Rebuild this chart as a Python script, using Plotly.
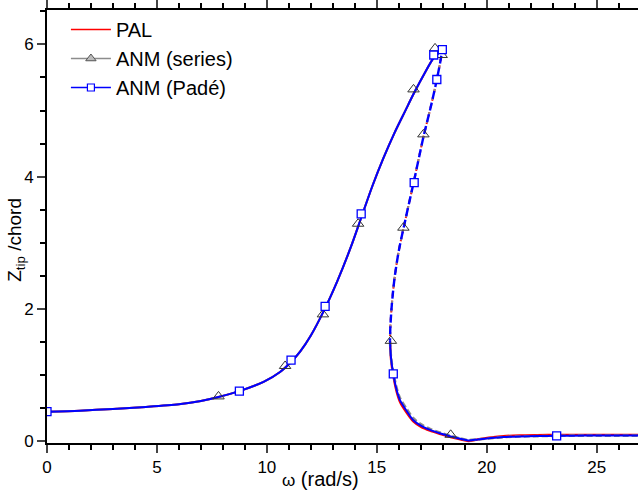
import plotly.graph_objects as go

# ---------------- data ----------------
# stable upper branch (shared by the three methods)
omega_upper = [0, 1.5, 3, 4.5, 6, 7, 7.8, 8.75, 9.85, 10.6, 11.1, 11.52, 12.0, 12.6,
               13.2, 13.8, 14.29, 14.8, 15.3, 15.8, 16.3, 16.67, 17.2, 17.59, 17.85, 17.98]
z_upper = [0.45, 0.465, 0.49, 0.52, 0.56, 0.61, 0.67, 0.76, 0.90, 1.05, 1.2, 1.36, 1.6, 1.98,
           2.42, 2.92, 3.38, 3.86, 4.28, 4.66, 5.0, 5.25, 5.58, 5.8, 5.89, 5.92]

# unstable branch (dashed)
omega_unstable = [17.98, 17.9, 17.75, 17.5, 17.12, 16.7, 16.3, 16.0, 15.8, 15.68, 15.62, 15.6]
z_unstable = [5.92, 5.76, 5.5, 5.12, 4.6, 3.95, 3.35, 2.88, 2.45, 2.05, 1.75, 1.52]

# stable lower branch
omega_lower = [15.6, 15.65, 15.75, 15.9, 16.06, 16.36, 16.66, 17.0, 17.42, 17.9, 18.36,
               18.8, 19.16, 19.6, 20.2, 20.75, 21.5, 22.3, 23.18, 24.5, 26.0, 27.0]
z_lower_pade = [1.52, 1.25, 1.02, 0.78, 0.62, 0.46, 0.32, 0.24, 0.175, 0.12, 0.075,
                0.04, 0.015, 0.03, 0.05, 0.065, 0.075, 0.08, 0.085, 0.088, 0.088, 0.088]
z_lower_series = [1.52, 1.26, 1.04, 0.81, 0.65, 0.49, 0.35, 0.26, 0.19, 0.13, 0.085,
                  0.045, 0.02, 0.03, 0.05, 0.065, 0.075, 0.08, 0.085, 0.088, 0.088, 0.088]
z_lower_pal = [1.52, 1.22, 0.99, 0.75, 0.59, 0.43, 0.30, 0.22, 0.16, 0.11, 0.065,
               0.03, 0.005, 0.03, 0.06, 0.08, 0.092, 0.097, 0.1, 0.1, 0.1, 0.1]

# ANM (series) markers
series_w = [7.8, 10.83, 12.55, 14.15, 16.67, 17.65, 17.95, 17.12, 16.21, 15.64, 18.36]
series_z = [0.68, 1.14, 1.92, 3.29, 5.32, 5.94, 5.84, 4.64, 3.23, 1.52, 0.10]

# ANM (Padé) markers
pade_w = [0, 8.75, 11.1, 12.65, 14.29, 17.59, 17.98, 17.73, 16.7, 15.75, 23.18]
pade_z = [0.45, 0.76, 1.23, 2.04, 3.44, 5.84, 5.92, 5.47, 3.91, 1.02, 0.085]

x_ticks = [0, 5, 10, 15, 20, 25]
y_ticks = [0, 2, 4, 6]

RED = "#ff0000"
GRAY = "#8c8c8c"
BLUE = "#0000ff"

fig = go.Figure()


def add_branch(x, y, color, dash, width=2.0):
    fig.add_trace(go.Scatter(x=x, y=y, mode="lines", showlegend=False,
                             hoverinfo="skip",
                             line=dict(color=color, width=width, dash=dash,
                                       shape="spline", smoothing=0.8)))


# PAL (red)
add_branch(omega_upper, z_upper, RED, "solid")
add_branch(omega_unstable, z_unstable, RED, "4px,4px")
add_branch(omega_lower, z_lower_pal, RED, "solid", 2.2)
# ANM series (gray)
add_branch(omega_upper, z_upper, GRAY, "solid")
add_branch(omega_unstable, z_unstable, GRAY, "3px,5px")
add_branch(omega_lower, z_lower_series, GRAY, "6px,3px", 2.6)
# ANM Pade (blue)
add_branch(omega_upper, z_upper, BLUE, "solid")
add_branch(omega_unstable, z_unstable, BLUE, "2px,4px,6px,0px", 2.4)
add_branch(omega_lower, z_lower_pade, BLUE, "solid")

# markers
fig.add_trace(go.Scatter(x=series_w, y=series_z, mode="markers", showlegend=False,
                         marker=dict(symbol="triangle-up", size=10, color="rgba(0,0,0,0)",
                                     line=dict(color="#333333", width=1))))
fig.add_trace(go.Scatter(x=pade_w, y=pade_z, mode="markers", showlegend=False,
                         marker=dict(symbol="square", size=8, color="white",
                                     line=dict(color=BLUE, width=1.3))))

# legend entries
fig.add_trace(go.Scatter(x=[None], y=[None], mode="lines", name="PAL",
                         line=dict(color=RED, width=1.5)))
fig.add_trace(go.Scatter(x=[None], y=[None], mode="lines+markers", name="ANM (series)",
                         line=dict(color=GRAY, width=1.5),
                         marker=dict(symbol="triangle-up", size=9, color="#bbbbbb",
                                     line=dict(color="#555555", width=1))))
fig.add_trace(go.Scatter(x=[None], y=[None], mode="lines+markers", name="ANM (Padé)",
                         line=dict(color=BLUE, width=1.5),
                         marker=dict(symbol="square", size=7, color="white",
                                     line=dict(color=BLUE, width=1.2))))

FONT = "Liberation Sans, Arial, sans-serif"

fig.update_layout(
    width=638, height=490,
    margin=dict(l=47, r=0, t=6, b=47),
    paper_bgcolor="white", plot_bgcolor="white",
    font=dict(family=FONT, size=17, color="black"),
    showlegend=True,
    legend=dict(x=0.032, y=1.0, xanchor="left", yanchor="top",
                bgcolor="rgba(0,0,0,0)", font=dict(size=20),
                tracegroupgap=0, itemwidth=40),
    xaxis=dict(range=[0, 26.88], tickvals=x_ticks, ticks="outside", ticklen=8,
               tickwidth=1.5, showline=True, linewidth=2, linecolor="black",
               mirror="ticks", showgrid=False, zeroline=False,
               minor=dict(dtick=1, ticks="outside", ticklen=5, tickwidth=1.5,
                          tickcolor="black", showgrid=False),
               tickfont=dict(size=17)),
    yaxis=dict(range=[-0.024, 6.52], tickvals=y_ticks, ticks="outside", ticklen=8,
               tickwidth=1.5, showline=True, linewidth=2, linecolor="black",
               showgrid=False, zeroline=False,
               minor=dict(dtick=0.5, ticks="outside", ticklen=5, tickwidth=1.5,
                          tickcolor="black", showgrid=False),
               tickfont=dict(size=17)),
    annotations=[
        dict(text="<span style='font-size:17px'>ω</span> (rad/s)", xref="paper", yref="paper",
             x=(320 - 47) / 591, y=-0.082, xanchor="center", yanchor="middle",
             showarrow=False, font=dict(size=20)),
        dict(text="Z<sub>tip</sub> /chord", xref="paper", yref="paper",
             x=-0.052, y=0.47, xanchor="center", yanchor="middle", textangle=-90,
             showarrow=False, font=dict(size=19)),
    ],
)

fig.write_html("out.html")
